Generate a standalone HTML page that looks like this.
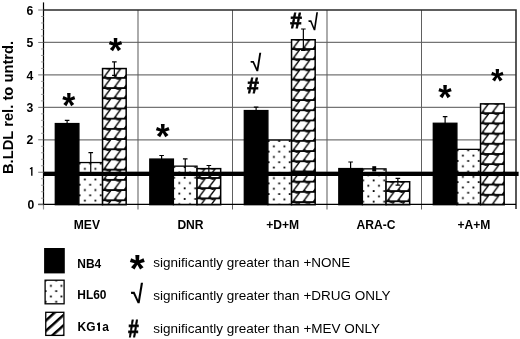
<!DOCTYPE html><html><head><meta charset="utf-8"><style>html,body{margin:0;padding:0;background:#fff;overflow:hidden}svg{display:block;font-family:"Liberation Sans",Arial,sans-serif}</style></head><body>
<svg width="520" height="339" viewBox="0 0 520 339">
<defs>
<pattern id="dots" patternUnits="userSpaceOnUse" width="10.6" height="10.6"><rect x="5.05" y="5.4" width="1.8" height="1.8" fill="#000"/><rect x="-0.25" y="0.1" width="1.8" height="1.8" fill="#000"/><rect x="10.35" y="0.1" width="1.8" height="1.8" fill="#000"/></pattern>
<pattern id="hatch" patternUnits="userSpaceOnUse" width="10.3" height="10.2"><rect x="0" y="0" width="10.3" height="0.9" fill="#000"/><rect x="0" y="9.35" width="10.3" height="0.85" fill="#000"/><path d="M-9.45 10.40 L-1.55 -0.2 M0.85 10.40 L8.75 -0.2 M11.15 10.40 L19.05 -0.2 " stroke="#000" stroke-width="1.35" fill="none"/><path d="M-8.20 0.8 Q-4.90 2.9 -1.50 0.8Z M-9.10 9.40 L-5.80 9.40 L-6.90 8.40Z" fill="#000"/><path d="M2.10 0.8 Q5.40 2.9 8.80 0.8Z M1.20 9.40 L4.50 9.40 L3.40 8.40Z" fill="#000"/><path d="M12.40 0.8 Q15.70 2.9 19.10 0.8Z M11.50 9.40 L14.80 9.40 L13.70 8.40Z" fill="#000"/></pattern>
<pattern id="lhatch" patternUnits="userSpaceOnUse" width="7.7" height="7.7" patternTransform="translate(45.1,321.2) rotate(-42) translate(0,-1.25)"><rect x="0" y="0" width="7.7" height="2.5" fill="#000"/></pattern>
</defs>
<line x1="43.5" y1="172.25" x2="516.0" y2="172.25" stroke="#747474" stroke-width="1.2"/>
<line x1="43.5" y1="139.80" x2="516.0" y2="139.80" stroke="#747474" stroke-width="1.2"/>
<line x1="43.5" y1="107.35" x2="516.0" y2="107.35" stroke="#747474" stroke-width="1.2"/>
<line x1="43.5" y1="74.90" x2="516.0" y2="74.90" stroke="#747474" stroke-width="1.2"/>
<line x1="43.5" y1="42.45" x2="516.0" y2="42.45" stroke="#747474" stroke-width="1.2"/>
<line x1="138.00" y1="10" x2="138.00" y2="209.5" stroke="#606060" stroke-width="1.05"/>
<line x1="232.50" y1="10" x2="232.50" y2="209.5" stroke="#606060" stroke-width="1.05"/>
<line x1="327.00" y1="10" x2="327.00" y2="209.5" stroke="#606060" stroke-width="1.05"/>
<line x1="421.50" y1="10" x2="421.50" y2="209.5" stroke="#606060" stroke-width="1.05"/>
<rect x="55.30" y="123.55" width="23.62" height="81.15" fill="#000" stroke="#000" stroke-width="1.3"/>
<path d="M67.11 120.40 V126.70 M64.81 120.40 H69.41 M64.81 126.70 H69.41" stroke="#000" stroke-width="1.2" fill="none"/>
<rect x="78.92" y="162.55" width="23.62" height="42.15" fill="#fff"/>
<g transform="translate(78.92,162.55)"><rect x="0" y="0" width="23.62" height="42.15" fill="url(#dots)"/></g>
<rect x="78.92" y="162.55" width="23.62" height="42.15" fill="none" stroke="#000" stroke-width="1.3"/>
<path d="M90.74 152.60 V173 M88.44 152.60 H93.04" stroke="#000" stroke-width="1.2" fill="none"/>
<rect x="102.55" y="68.55" width="23.62" height="136.15" fill="#fff"/>
<g transform="translate(102.55,67.65)"><rect x="0" y="0.9" width="23.62" height="135.25" fill="url(#hatch)"/></g>
<rect x="102.55" y="68.55" width="23.62" height="136.15" fill="none" stroke="#000" stroke-width="1.5"/>
<path d="M114.36 61.80 V75.30 M112.06 61.80 H116.66 M112.06 75.30 H116.66" stroke="#000" stroke-width="1.2" fill="none"/>
<rect x="149.80" y="159.05" width="23.62" height="45.65" fill="#000" stroke="#000" stroke-width="1.3"/>
<path d="M161.61 155.50 V162.60 M159.31 155.50 H163.91 M159.31 162.60 H163.91" stroke="#000" stroke-width="1.2" fill="none"/>
<rect x="173.43" y="166.15" width="23.62" height="38.55" fill="#fff"/>
<g transform="translate(173.43,166.15)"><rect x="0" y="0" width="23.62" height="38.55" fill="url(#dots)"/></g>
<rect x="173.43" y="166.15" width="23.62" height="38.55" fill="none" stroke="#000" stroke-width="1.3"/>
<path d="M185.24 158.80 V173 M182.94 158.80 H187.54" stroke="#000" stroke-width="1.2" fill="none"/>
<rect x="197.05" y="168.65" width="23.62" height="36.05" fill="#fff"/>
<g transform="translate(197.05,167.75)"><rect x="0" y="0.9" width="23.62" height="35.15" fill="url(#hatch)"/></g>
<rect x="197.05" y="168.65" width="23.62" height="36.05" fill="none" stroke="#000" stroke-width="1.5"/>
<path d="M208.86 165.50 V173 M206.56 165.50 H211.16" stroke="#000" stroke-width="1.2" fill="none"/>
<rect x="244.30" y="110.55" width="23.62" height="94.15" fill="#000" stroke="#000" stroke-width="1.3"/>
<path d="M256.11 107.10 V114.00 M253.81 107.10 H258.41 M253.81 114.00 H258.41" stroke="#000" stroke-width="1.2" fill="none"/>
<rect x="267.93" y="140.05" width="23.62" height="64.65" fill="#fff"/>
<g transform="translate(267.93,140.05)"><rect x="0" y="0" width="23.62" height="64.65" fill="url(#dots)"/></g>
<rect x="267.93" y="140.05" width="23.62" height="64.65" fill="none" stroke="#000" stroke-width="1.3"/>
<rect x="291.55" y="39.75" width="23.62" height="164.95" fill="#fff"/>
<g transform="translate(291.55,38.85)"><rect x="0" y="0.9" width="23.62" height="164.05" fill="url(#hatch)"/></g>
<rect x="291.55" y="39.75" width="23.62" height="164.95" fill="none" stroke="#000" stroke-width="1.5"/>
<path d="M303.36 29.00 V50.50 M301.06 29.00 H305.66 M301.06 50.50 H305.66" stroke="#000" stroke-width="1.2" fill="none"/>
<rect x="338.80" y="168.55" width="23.62" height="36.15" fill="#000" stroke="#000" stroke-width="1.3"/>
<path d="M350.61 162.00 V173 M348.31 162.00 H352.91" stroke="#000" stroke-width="1.2" fill="none"/>
<rect x="362.43" y="168.85" width="23.62" height="35.85" fill="#fff"/>
<g transform="translate(362.43,168.85)"><rect x="0" y="0" width="23.62" height="35.85" fill="url(#dots)"/></g>
<rect x="362.43" y="168.85" width="23.62" height="35.85" fill="none" stroke="#000" stroke-width="1.3"/>
<rect x="372.29" y="166.20" width="3.9" height="5.30" fill="#000"/>
<rect x="386.05" y="181.75" width="23.62" height="22.95" fill="#fff"/>
<g transform="translate(386.05,180.85)"><rect x="0" y="0.9" width="23.62" height="22.05" fill="url(#hatch)"/></g>
<rect x="386.05" y="181.75" width="23.62" height="22.95" fill="none" stroke="#000" stroke-width="1.5"/>
<path d="M397.86 178.30 V185.20 M395.56 178.30 H400.16 M395.56 185.20 H400.16" stroke="#000" stroke-width="1.2" fill="none"/>
<rect x="433.30" y="123.25" width="23.62" height="81.45" fill="#000" stroke="#000" stroke-width="1.3"/>
<path d="M445.11 116.60 V129.90 M442.81 116.60 H447.41 M442.81 129.90 H447.41" stroke="#000" stroke-width="1.2" fill="none"/>
<rect x="456.93" y="149.35" width="23.62" height="55.35" fill="#fff"/>
<g transform="translate(456.93,149.35)"><rect x="0" y="0" width="23.62" height="55.35" fill="url(#dots)"/></g>
<rect x="456.93" y="149.35" width="23.62" height="55.35" fill="none" stroke="#000" stroke-width="1.3"/>
<rect x="480.55" y="103.85" width="23.62" height="100.85" fill="#fff"/>
<g transform="translate(480.55,102.95)"><rect x="0" y="0.9" width="23.62" height="99.95" fill="url(#hatch)"/></g>
<rect x="480.55" y="103.85" width="23.62" height="100.85" fill="none" stroke="#000" stroke-width="1.5"/>
<path d="M43.5 10 H516.0 V209" stroke="#2a2a2a" stroke-width="1.55" fill="none" stroke-linejoin="miter"/>
<rect x="43.5" y="171.75" width="475.10" height="4.25" fill="#000"/>
<line x1="43.5" y1="205.3" x2="43.5" y2="209.5" stroke="#909090" stroke-width="1.2"/>
<line x1="43.5" y1="2.4" x2="43.5" y2="205.3" stroke="#000" stroke-width="1.2"/>
<line x1="38.2" y1="204.35" x2="516.0" y2="204.35" stroke="#000" stroke-width="1.3"/>
<line x1="38.2" y1="204.70" x2="43.5" y2="204.70" stroke="#787878" stroke-width="1.0"/>
<line x1="41" y1="198.21" x2="43.5" y2="198.21" stroke="#a0a0a0" stroke-width="1"/>
<line x1="41" y1="191.72" x2="43.5" y2="191.72" stroke="#a0a0a0" stroke-width="1"/>
<line x1="41" y1="185.23" x2="43.5" y2="185.23" stroke="#a0a0a0" stroke-width="1"/>
<line x1="41" y1="178.74" x2="43.5" y2="178.74" stroke="#a0a0a0" stroke-width="1"/>
<line x1="38.2" y1="172.25" x2="43.5" y2="172.25" stroke="#787878" stroke-width="1.0"/>
<line x1="41" y1="165.76" x2="43.5" y2="165.76" stroke="#a0a0a0" stroke-width="1"/>
<line x1="41" y1="159.27" x2="43.5" y2="159.27" stroke="#a0a0a0" stroke-width="1"/>
<line x1="41" y1="152.78" x2="43.5" y2="152.78" stroke="#a0a0a0" stroke-width="1"/>
<line x1="41" y1="146.29" x2="43.5" y2="146.29" stroke="#a0a0a0" stroke-width="1"/>
<line x1="38.2" y1="139.80" x2="43.5" y2="139.80" stroke="#787878" stroke-width="1.0"/>
<line x1="41" y1="133.31" x2="43.5" y2="133.31" stroke="#a0a0a0" stroke-width="1"/>
<line x1="41" y1="126.82" x2="43.5" y2="126.82" stroke="#a0a0a0" stroke-width="1"/>
<line x1="41" y1="120.33" x2="43.5" y2="120.33" stroke="#a0a0a0" stroke-width="1"/>
<line x1="41" y1="113.84" x2="43.5" y2="113.84" stroke="#a0a0a0" stroke-width="1"/>
<line x1="38.2" y1="107.35" x2="43.5" y2="107.35" stroke="#787878" stroke-width="1.0"/>
<line x1="41" y1="100.86" x2="43.5" y2="100.86" stroke="#a0a0a0" stroke-width="1"/>
<line x1="41" y1="94.37" x2="43.5" y2="94.37" stroke="#a0a0a0" stroke-width="1"/>
<line x1="41" y1="87.88" x2="43.5" y2="87.88" stroke="#a0a0a0" stroke-width="1"/>
<line x1="41" y1="81.39" x2="43.5" y2="81.39" stroke="#a0a0a0" stroke-width="1"/>
<line x1="38.2" y1="74.90" x2="43.5" y2="74.90" stroke="#787878" stroke-width="1.0"/>
<line x1="41" y1="68.41" x2="43.5" y2="68.41" stroke="#a0a0a0" stroke-width="1"/>
<line x1="41" y1="61.92" x2="43.5" y2="61.92" stroke="#a0a0a0" stroke-width="1"/>
<line x1="41" y1="55.43" x2="43.5" y2="55.43" stroke="#a0a0a0" stroke-width="1"/>
<line x1="41" y1="48.94" x2="43.5" y2="48.94" stroke="#a0a0a0" stroke-width="1"/>
<line x1="38.2" y1="42.45" x2="43.5" y2="42.45" stroke="#787878" stroke-width="1.0"/>
<line x1="41" y1="35.96" x2="43.5" y2="35.96" stroke="#a0a0a0" stroke-width="1"/>
<line x1="41" y1="29.47" x2="43.5" y2="29.47" stroke="#a0a0a0" stroke-width="1"/>
<line x1="41" y1="22.98" x2="43.5" y2="22.98" stroke="#a0a0a0" stroke-width="1"/>
<line x1="41" y1="16.49" x2="43.5" y2="16.49" stroke="#a0a0a0" stroke-width="1"/>
<line x1="38.2" y1="10.00" x2="43.5" y2="10.00" stroke="#787878" stroke-width="1.0"/>
<text x="34.2" y="208.9" font-size="12.2" font-weight="bold" text-anchor="end">0</text>
<text x="34.5" y="176.3" font-size="11.6" font-weight="bold" text-anchor="end" font-family="IPAGothic, sans-serif">1</text>
<text x="33.4" y="143.5" font-size="12.2" font-weight="bold" text-anchor="end">2</text>
<text x="33.4" y="111.5" font-size="12.2" font-weight="bold" text-anchor="end">3</text>
<text x="33.4" y="79.5" font-size="12.2" font-weight="bold" text-anchor="end">4</text>
<text x="33.4" y="47.2" font-size="12.2" font-weight="bold" text-anchor="end">5</text>
<text x="33.2" y="14.8" font-size="12.2" font-weight="bold" text-anchor="end">6</text>
<text transform="translate(13.1,174.1) rotate(-90)" font-size="14.75" font-weight="bold">B.LDL rel. to untrd.</text>
<text x="73.8" y="229.1" font-size="12.1" font-weight="bold">MEV</text>
<text x="177.4" y="229.1" font-size="12.1" font-weight="bold">DNR</text>
<text x="266.2" y="229.1" font-size="12.1" font-weight="bold">+D+M</text>
<text x="356.6" y="229.1" font-size="12.1" font-weight="bold">ARA-C</text>
<text x="457.4" y="229.1" font-size="12.1" font-weight="bold">+A+M</text>
<rect x="44.1" y="248" width="20.7" height="25.4" fill="#000"/>
<rect x="45.1" y="280.3" width="19" height="23.6" fill="#fff"/>
<g transform="translate(44.95,279.55)"><rect x="0.15" y="0.75" width="19" height="23.6" fill="url(#dots)"/></g>
<rect x="45.1" y="280.2" width="19" height="23.6" fill="none" stroke="#000" stroke-width="1.3"/>
<rect x="45.8" y="312.4" width="17.8" height="23" fill="url(#lhatch)"/>
<rect x="45.75" y="312.3" width="18.1" height="23.1" fill="none" stroke="#000" stroke-width="1.3"/>
<text x="77.3" y="267.5" font-size="11.95" font-weight="bold">NB4</text>
<text x="77.3" y="298.7" font-size="11.95" font-weight="bold">HL60</text>
<text x="77.6" y="331.4" font-size="11.95" font-weight="bold">KG<tspan font-family="IPAGothic, sans-serif" font-size="10.6" stroke="#000" stroke-width="0.45" dx="0.7">1</tspan><tspan dx="0.75">a</tspan></text>
<text x="153.3" y="267.4" font-size="13.5">significantly greater than +NONE</text>
<text x="153.3" y="300.3" font-size="13.5">significantly greater than +DRUG ONLY</text>
<text x="153.3" y="332.7" font-size="13.5">significantly greater than +MEV ONLY</text>
<text transform="translate(251.83,71.28) scale(0.9145,1) skewX(7.5)" font-size="23.17" font-family="Liberation Sans, sans-serif" font-weight="bold">√</text>
<text transform="translate(309.42,29.93) scale(0.8492,1) skewX(7.5)" font-size="22.40" font-family="Liberation Sans, sans-serif" font-weight="bold">√</text>
<text transform="translate(132.16,303.32) scale(0.9458,1) skewX(7.5)" font-size="25.49" font-family="Liberation Sans, sans-serif" font-weight="bold">√</text>
<text transform="translate(247.37,92.61) scale(0.9341,1)" font-size="22.15" font-family="Liberation Sans, sans-serif" font-weight="bold" stroke="#000" stroke-width="0.800">#</text>
<text transform="translate(290.37,28.10) scale(0.9341,1)" font-size="22.15" font-family="Liberation Sans, sans-serif" font-weight="bold" stroke="#000" stroke-width="0.800">#</text>
<text transform="translate(128.37,337.13) scale(0.7872,1)" font-size="23.75" font-family="Liberation Sans, sans-serif" font-weight="bold" stroke="#000" stroke-width="0.800">#</text>
<text transform="translate(62.20,116.76) scale(0.9694,1)" font-size="34.58" font-family="Liberation Sans, sans-serif" font-weight="bold">*</text>
<text transform="translate(108.69,62.09) scale(0.9991,1)" font-size="34.58" font-family="Liberation Sans, sans-serif" font-weight="bold">*</text>
<text transform="translate(155.64,147.97) scale(1.0324,1)" font-size="34.62" font-family="Liberation Sans, sans-serif" font-weight="bold">*</text>
<text transform="translate(438.20,109.02) scale(0.9676,1)" font-size="35.84" font-family="Liberation Sans, sans-serif" font-weight="bold">*</text>
<text transform="translate(491.09,92.13) scale(0.9742,1)" font-size="33.25" font-family="Liberation Sans, sans-serif" font-weight="bold">*</text>
<text transform="translate(129.74,282.33) scale(1.0034,1)" font-size="38.59" font-family="Liberation Sans, sans-serif" font-weight="bold">*</text>
</svg></body></html>
